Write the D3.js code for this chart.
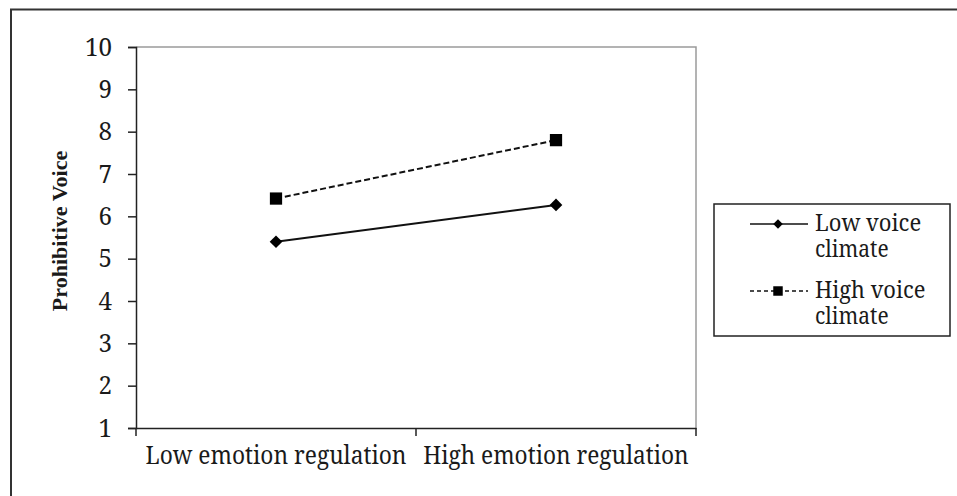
<!DOCTYPE html>
<html>
<head>
<meta charset="utf-8">
<script src="https://cdn.jsdelivr.net/npm/d3@7"></script>
<style>
  html, body { margin: 0; padding: 0; background: #fff; }
  svg { display: block; }
</style>
</head>
<body>
<svg id="chart" width="957" height="496"></svg>
<script>
const categories = ["Low emotion regulation", "High emotion regulation"];
const seriesNames = ["Low voice climate", "High voice climate"];
const lowVoiceClimate = [5.4, 6.27];
const highVoiceClimate = [6.42, 7.8];
const yTicks = [1, 2, 3, 4, 5, 6, 7, 8, 9, 10];
const yTitle = "Prohibitive Voice";

const SERIF = '"Noto Serif", "DejaVu Serif", serif';
const SERIF_BOLD = '"Liberation Serif", "Times New Roman", serif';
const TXT = "#1a1a1a";

// Times-like advance widths (per 1000 em) so the wider serif is fitted to the reference widths
const tw = { " ": 250, L: 611, H: 722, V: 722, a: 444, b: 500, c: 444, e: 444, g: 500, h: 500, i: 278,
  l: 278, m: 778, n: 500, o: 500, r: 333, t: 278, u: 500, v: 500, w: 722 };
const timesWidth = (s, size) => [...s].reduce((acc, ch) => acc + (tw[ch] || 500), 0) * size / 1000;
function fitText(sel, size) {
  sel.attr("textLength", function () { return timesWidth(d3.select(this).text(), size); })
    .attr("lengthAdjust", "spacingAndGlyphs");
}
function serifText(sel, size) {
  sel.attr("font-family", SERIF).attr("font-size", size * 0.93).attr("fill", TXT).call(fitText, size);
}

const svg = d3.select("#chart");
const W = 957, H = 496;
const plot = { left: 136, right: 696, top: 47, bottom: 428 };

// outer frame (only top and left edges visible)
svg.append("path")
  .attr("d", `M11,${H} L11,9.5 L${W},9.5`)
  .attr("fill", "none").attr("stroke", "#333").attr("stroke-width", 2);

const x = d3.scaleBand().domain(categories).range([plot.left, plot.right]).padding(0);
const y = d3.scaleLinear().domain([1, 10]).range([plot.bottom, plot.top]);

// plot area border (gray top/right)
svg.append("path")
  .attr("d", `M${plot.left},${plot.top} L${plot.right},${plot.top} L${plot.right},${plot.bottom}`)
  .attr("fill", "none").attr("stroke", "#9a9a9a").attr("stroke-width", 1.5);

// y axis
const yAxis = svg.append("g")
  .attr("transform", `translate(${plot.left},0)`)
  .call(d3.axisLeft(y).tickValues(yTicks).tickSize(8).tickPadding(16).tickFormat(d3.format("d")));
yAxis.select(".domain").attr("stroke", "#222").attr("stroke-width", 1.5);
yAxis.selectAll(".tick line").attr("stroke", "#222").attr("stroke-width", 1.5);
yAxis.selectAll("text").call(serifText, 27);

// x axis
const xAxis = svg.append("g")
  .attr("transform", `translate(0,${plot.bottom})`)
  .call(d3.axisBottom(x).tickSize(0));
xAxis.select(".domain").attr("stroke", "#222").attr("stroke-width", 1.5);
xAxis.selectAll("text").attr("y", 36).attr("dy", null).call(serifText, 27);
// x boundary ticks (between categories)
const boundaries = [plot.left, x(categories[1]), plot.right];
svg.append("g").selectAll("line").data(boundaries).join("line")
  .attr("x1", d => d).attr("x2", d => d)
  .attr("y1", plot.bottom).attr("y2", plot.bottom + 8)
  .attr("stroke", "#222").attr("stroke-width", 1.5);

// y title
svg.append("text")
  .attr("transform", `translate(67,231) rotate(-90)`)
  .attr("text-anchor", "middle")
  .attr("font-family", SERIF_BOLD).attr("fill", TXT)
  .attr("font-size", 22).attr("font-weight", "bold")
  .text(yTitle);

const cx = d => x(d) + x.bandwidth() / 2;
const line = d3.line().x((d, i) => cx(categories[i])).y(d => y(d));

// series lines
svg.append("path").datum(lowVoiceClimate).attr("d", line)
  .attr("fill", "none").attr("stroke", "#111").attr("stroke-width", 2);
svg.append("path").datum(highVoiceClimate).attr("d", line)
  .attr("fill", "none").attr("stroke", "#111").attr("stroke-width", 2)
  .attr("stroke-dasharray", "6,3");

svg.append("g").selectAll("path").data(lowVoiceClimate).join("path")
  .attr("transform", (d, i) => `translate(${cx(categories[i])},${y(d)}) rotate(45)`)
  .attr("d", d3.symbol().type(d3.symbolSquare).size(80)).attr("fill", "#000");
svg.append("g").selectAll("path").data(highVoiceClimate).join("path")
  .attr("transform", (d, i) => `translate(${cx(categories[i])},${y(d)})`)
  .attr("d", d3.symbol().type(d3.symbolSquare).size(150)).attr("fill", "#000");

// legend
const lg = svg.append("g");
lg.append("rect").attr("x", 714).attr("y", 204).attr("width", 236).attr("height", 132)
  .attr("fill", "#fff").attr("stroke", "#222").attr("stroke-width", 1.5);

const legendRows = [
  { name: seriesNames[0], lines: ["Low voice", "climate"], y: 224, dash: null, marker: "diamond" },
  { name: seriesNames[1], lines: ["High voice", "climate"], y: 291, dash: "4,3", marker: "square" }
];
legendRows.forEach(r => {
  lg.append("line").attr("x1", 750).attr("x2", 808).attr("y1", r.y).attr("y2", r.y)
    .attr("stroke", "#111").attr("stroke-width", 1.5)
    .attr("stroke-dasharray", r.dash);
  if (r.marker === "diamond") {
    lg.append("path").attr("transform", `translate(778,${r.y}) rotate(45)`)
      .attr("d", d3.symbol().type(d3.symbolSquare).size(45)).attr("fill", "#000");
  } else {
    lg.append("path").attr("transform", `translate(778,${r.y})`)
      .attr("d", d3.symbol().type(d3.symbolSquare).size(90)).attr("fill", "#000");
  }
  const t = lg.append("text").attr("x", 815).attr("y", r.y + 7)
    .attr("font-family", SERIF).attr("font-size", 25 * 0.92).attr("fill", TXT);
  t.append("tspan").attr("x", 815).text(r.lines[0]).call(fitText, 25);
  t.append("tspan").attr("x", 815).attr("dy", 26).text(r.lines[1]).call(fitText, 25);
});
</script>
</body>
</html>
